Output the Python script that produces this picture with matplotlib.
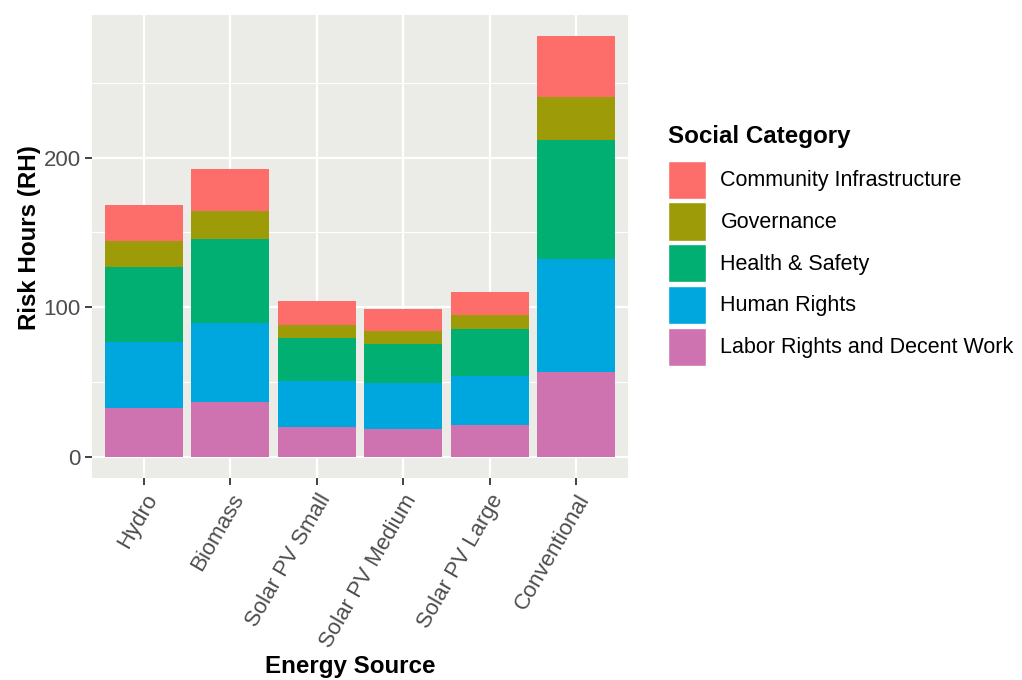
import matplotlib
matplotlib.use("Agg")
import matplotlib.pyplot as plt
from matplotlib.patches import Patch
import numpy as np

plt.rcParams['font.family'] = ['Liberation Sans', 'DejaVu Sans']

sources = ["Hydro", "Biomass", "Solar PV Small", "Solar PV Medium", "Solar PV Large", "Conventional"]
categories = ["Community Infrastructure", "Governance", "Health & Safety", "Human Rights",
              "Labor Rights and Decent Work"]
colors = ["#FD6E6A", "#9E9B08", "#00AF71", "#00A7DF", "#CE73AF"]

labor = [32.7, 36.7, 20.1, 18.6, 21.2, 56.8]
human_rights = [44.0, 53.0, 30.5, 30.5, 33.2, 75.2]
health_safety = [50.4, 55.7, 29.0, 26.5, 30.9, 79.5]
governance = [17.3, 19.1, 8.8, 8.8, 9.7, 28.8]
community = [24.2, 27.8, 15.5, 14.2, 15.5, 40.9]

series = {
    "Labor Rights and Decent Work": labor,
    "Human Rights": human_rights,
    "Health & Safety": health_safety,
    "Governance": governance,
    "Community Infrastructure": community,
}
color_map = dict(zip(categories, colors))

W, H = 1022, 680
fig = plt.figure(figsize=(W / 100, H / 100), dpi=100)
ax = fig.add_axes([92 / W, 1 - 478 / H, (628 - 92) / W, (478 - 15) / H])
ax.set_facecolor("#EBEBE8")

x = np.arange(1, len(sources) + 1)
bottom = np.zeros(len(sources))
for name in ["Labor Rights and Decent Work", "Human Rights", "Health & Safety", "Governance",
             "Community Infrastructure"]:
    vals = np.array(series[name])
    ax.bar(x, vals, bottom=bottom, width=0.9, color=color_map[name], edgecolor="none", zorder=3)
    bottom += vals

totals = bottom
ymax = totals.max()
ax.set_ylim(-0.05 * ymax, ymax * 1.05)
ax.set_xlim(0.4, len(sources) + 0.6)

ax.set_yticks([0, 100, 200])
ax.set_yticks([50, 150, 250], minor=True)
ax.set_xticks(x)
ax.set_xticklabels(sources, rotation=60, ha="right", va="top", rotation_mode="anchor")

ax.grid(which="major", color="white", linewidth=1.6, zorder=0)
ax.grid(which="minor", axis="y", color="white", linewidth=0.8, zorder=0)
ax.set_axisbelow(True)
for s in ax.spines.values():
    s.set_visible(False)

ax.tick_params(which="major", length=5, width=1.3, color="#333333", labelsize=16,
               labelcolor="#4D4D4D", pad=3)
ax.tick_params(axis="x", which="major", pad=4)
ax.tick_params(which="minor", length=0)

ax.set_xlabel("Energy Source", fontsize=17.4, fontweight="bold")
ax.set_ylabel("Risk Hours (RH)", fontsize=17.4, fontweight="bold")
ax.xaxis.set_label_coords((350 - 92) / (628 - 92), -(667 - 478) / (478 - 15))
ax.yaxis.set_label_coords(-(92 - 30) / (628 - 92), (478 - 238) / (478 - 15))
ax.xaxis.label.set_va("center")
ax.yaxis.label.set_va("center")

handles = [Patch(facecolor=c, edgecolor="white", linewidth=1.0) for c in colors]
leg = fig.legend(handles, categories, title="Social Category", loc="upper left",
                 bbox_to_anchor=(664 / W, 1 - 121 / H), frameon=False,
                 fontsize=15.5, title_fontproperties={"size": 17.4, "weight": "bold"},
                 handlelength=1.77, handleheight=2.34, labelspacing=0.17, handletextpad=0.65,
                 borderaxespad=0, borderpad=0.2)
leg._legend_box.align = "left"
leg._legend_box.sep = 9.0

fig.savefig("out.png", dpi=100, facecolor="white")
